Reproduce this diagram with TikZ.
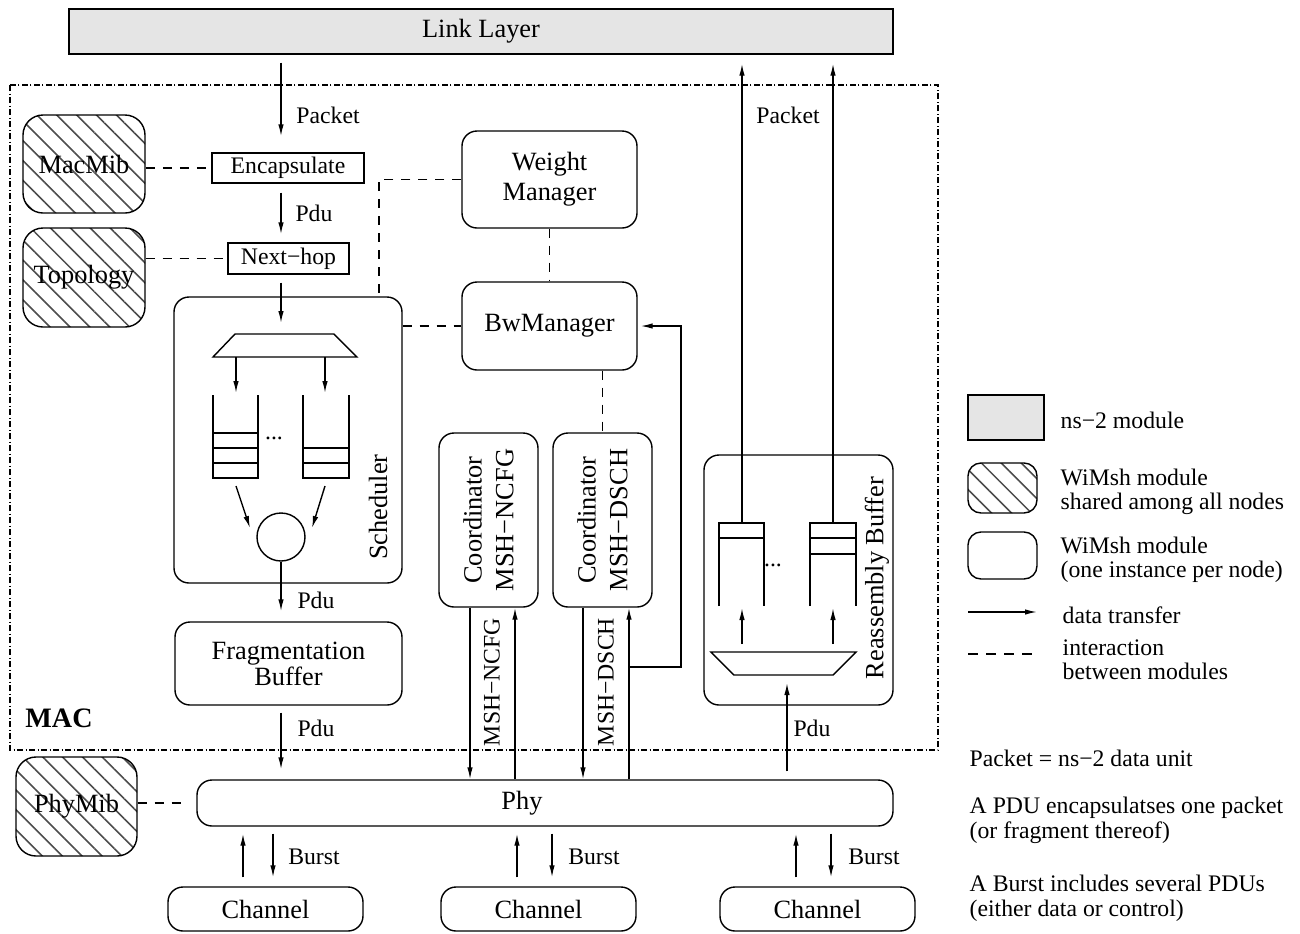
\documentclass[tikz,border=0pt]{standalone}
\usepackage{fontspec}
\setmainfont{Liberation Serif}
\usepackage{xcolor}
\usepackage{tikz}
\usetikzlibrary{arrows.meta,patterns.meta}
\definecolor{NS}{HTML}{e5e5e5}
\tikzset{
  module/.style={draw, rounded corners=3mm, align=center, inner sep=0pt, font=\fontsize{15}{17}\selectfont},
  shared/.style={module, rounded corners=4mm, pattern={Lines[angle=-45,distance=8pt,line width=0.9pt]}, pattern color=black!70},
  nsbox/.style={draw, fill=NS, inner sep=0pt, font=\fontsize{15}{17}\selectfont},
  plainbox/.style={draw, inner sep=0pt, font=\fontsize{13.5}{15}\selectfont},
  caption/.style={inner sep=0pt, font=\fontsize{15}{17}\selectfont},
  tag/.style={inner sep=0pt, font=\fontsize{13.5}{15}\selectfont},
  note/.style={tag, anchor=west, align=left, font=\fontsize{13.5}{13.5}\selectfont},
  flow/.style={-{Latex[length=2.4mm,width=1.1mm]}},
  link/.style={dash pattern=on 1.8mm off 1.6mm},
  layer/.style={dash pattern=on 1.2mm off 0.5mm on 0.2mm off 0.5mm}
}

\begin{document}
\begin{tikzpicture}[x=0.2mm, y=-0.2mm, line width=0.8pt]%
\useasboundingbox (0,0) rectangle (1300,933);%
% MAC frame
\draw[layer] (10,85) rectangle (938,750);%
\node[inner sep=0pt, font=\fontsize{16}{18}\selectfont\bfseries] (mac) at (59,718) {MAC};%
% modules
\node[nsbox, minimum width=164.8mm, minimum height=9mm] (link) at (481,31.5) {Link Layer};%
\node[shared, minimum width=24.4mm, minimum height=19.6mm] (macmib) at (84,164) {MacMib};%
\node[shared, minimum width=24.4mm, minimum height=19.8mm] (topo) at (84,277.5) {Topology};%
\node[plainbox, minimum width=30.4mm, minimum height=6mm] (encap) at (288,168) {Encapsulate};%
\node[plainbox, minimum width=24.2mm, minimum height=6.2mm] (nexthop) at (288.5,258.5) {Next−hop};%
\node[module, minimum width=45.6mm, minimum height=57.2mm] (sched) at (288,440) {};%
\node[caption, rotate=90] (schedlbl) at (378,507) {Scheduler};%
\node[module, minimum width=45.4mm, minimum height=16.6mm, font=\fontsize{15}{12.5}\selectfont] (frag) at (288.5,663.5) {Fragmentation\\Buffer};%
\node[module, minimum width=35mm, minimum height=19.4mm] (weight) at (549.5,179.5) {Weight\\Manager};%
\node[module, minimum width=35mm, minimum height=17.6mm] (bw) at (549.5,326) {BwManager};%
\node[module, rotate=90, minimum width=34.8mm, minimum height=19.8mm, font=\fontsize{15}{18}\selectfont] (ncfg) at (488.5,520) {Coordinator\\MSH−NCFG};%
\node[module, rotate=90, minimum width=34.8mm, minimum height=19.8mm, font=\fontsize{15}{18}\selectfont] (dsch) at (602.5,520) {Coordinator\\MSH−DSCH};%
\node[module, minimum width=37.8mm, minimum height=50mm] (reasm) at (798.5,580) {};%
\node[caption, rotate=90] (reasmlbl) at (877,578) {Reassembly Buffer};%
\node[module, minimum width=139.2mm, minimum height=9.2mm, label={[caption, xshift=-4.6mm]center:Phy}] (phy) at (545,803) {};%
\node[shared, minimum width=24.2mm, minimum height=19.8mm] (phymib) at (76.5,806.5) {PhyMib};%
\node[module, minimum width=39mm, minimum height=8.8mm] (ch1) at (265.5,909) {Channel};%
\node[module, minimum width=39mm, minimum height=8.8mm] (ch2) at (538.5,909) {Channel};%
\node[module, minimum width=39mm, minimum height=8.8mm] (ch3) at (817.5,909) {Channel};%
% scheduler inside
\coordinate (mux) at (281,334);%
\draw (235,334) -- (334,334) -- (357,357) -- (213,357) -- cycle;%
\draw[flow] (236,357) -- (236,393);%
\draw[flow] (325,357) -- (325,393);%
\draw (213,395) -- (213,478) -- (258,478) -- (258,395);%
\draw (213,433) -- (258,433) (213,448) -- (258,448) (213,463) -- (258,463);%
\draw (303,395) -- (303,478) -- (349,478) -- (349,395);%
\draw (303,448) -- (349,448) (303,463) -- (349,463);%
\node[tag] (dotsa) at (274,438) {...};%
\node[draw, circle, minimum size=9.6mm, inner sep=0pt] (srv) at (281,537) {};%
\draw[flow] (236,486) -- (250,528);%
\draw[flow] (325,486) -- (312,528);%
% reassembly inside
\coordinate (demux) at (787,675);%
\coordinate (qa) at (742,523);%
\coordinate (qb) at (833,523);%
\draw (711,652) -- (856,652) -- (833,675) -- (734,675) -- cycle;%
\draw[flow] (742,644) -- (742,608);%
\draw[flow] (833,644) -- (833,608);%
\draw (719,606) -- (719,523) -- (764,523) -- (764,606) (719,538) -- (764,538);%
\draw (810,606) -- (810,523) -- (856,523) -- (856,606) (810,538) -- (856,538) (810,554) -- (856,554);%
\node[tag] (dotsb) at (773,565) {...};%
% data transfer
\coordinate (col) at (281,0);%
\draw[flow, shorten <=1.6mm, shorten >=3.2mm] (link.south -| col) -- (encap.north -| col);%
\node[tag] (pkta) at (328,115) {Packet};%
\draw[flow, shorten <=1.8mm, shorten >=1.6mm] (encap.south -| col) -- (nexthop.north -| col);%
\node[tag] (pdua) at (314,213) {Pdu};%
\draw[flow, shorten <=1.6mm, shorten >=2.2mm] (nexthop.south -| col) -- (mux);%
\draw[flow, shorten >=2mm] (srv.south) -- (frag.north -| srv);%
\node[tag] (pdub) at (316,600) {Pdu};%
\draw[flow, shorten <=1.4mm, shorten >=2mm] (frag.south -| col) -- (phy.north -| col);%
\node[tag] (pduc) at (316,728) {Pdu};%
\draw[flow, shorten >=1.8mm] (qa) -- (link.south -| qa);%
\draw[flow, shorten >=1.8mm] (qb) -- (link.south -| qb);%
\node[tag] (pktb) at (788,115) {Packet};%
\draw[flow, shorten <=1.6mm, shorten >=1.6mm] (phy.north -| demux) -- (demux);%
\node[tag] (pdud) at (812,728) {Pdu};%
% coordinators (rotated: west is the bottom side, east the top side)
\coordinate (ncdn) at (470,0);%
\coordinate (ncup) at (515,0);%
\coordinate (dsdn) at (583,0);%
\coordinate (dsup) at (629,0);%
\coordinate (tap) at (629,667);%
\coordinate (turn) at (681,667);%
\draw[flow] (ncfg.west -| ncdn) -- (phy.north -| ncdn);%
\draw[flow] (phy.north -| ncup) -- (ncfg.west -| ncup);%
\draw[flow] (dsch.west -| dsdn) -- (phy.north -| dsdn);%
\draw[flow] (phy.north -| dsup) -- (dsch.west -| dsup);%
\draw[flow, shorten >=0.6mm] (tap) -- (turn) |- (bw.east);%
\node[tag, rotate=90] (msga) at (492,682) {MSH−NCFG};%
\node[tag, rotate=90] (msgb) at (606,682) {MSH−DSCH};%
% channels
\coordinate (ua) at (243,0);%
\coordinate (da) at (273,0);%
\coordinate (ub) at (517,0);%
\coordinate (db) at (552,0);%
\coordinate (uc) at (796,0);%
\coordinate (dc) at (831,0);%
\draw[flow, shorten <=1.8mm, shorten >=1.4mm] (ch1.north -| ua) -- (phy.south -| ua);%
\draw[flow, shorten <=1.4mm, shorten >=1.8mm] (phy.south -| da) -- (ch1.north -| da);%
\node[tag] (bursta) at (314,857) {Burst};%
\draw[flow, shorten <=1.8mm, shorten >=1.4mm] (ch2.north -| ub) -- (phy.south -| ub);%
\draw[flow, shorten <=1.4mm, shorten >=1.8mm] (phy.south -| db) -- (ch2.north -| db);%
\node[tag] (burstb) at (594,857) {Burst};%
\draw[flow, shorten <=1.8mm, shorten >=1.4mm] (ch3.north -| uc) -- (phy.south -| uc);%
\draw[flow, shorten <=1.4mm, shorten >=1.8mm] (phy.south -| dc) -- (ch3.north -| dc);%
\node[tag] (burstc) at (874,857) {Burst};%
% interactions
\draw[link] (macmib.east |- encap.west) -- (encap.west);%
\draw[link] (topo.east |- nexthop.west) -- (nexthop.west);%
\draw[link] (weight.west) -| ([xshift=18.2mm]sched.north);%
\draw[link] (sched.east |- bw.west) -- (bw.west);%
\draw[link] (weight.south) -- (bw.north);%
\draw[link] (bw.south -| dsch.east) -- (dsch.east);%
\draw[link, shorten >=2mm] (phymib.east |- phy.west) -- (phy.west);%
% legend
\node[nsbox, minimum width=15.2mm, minimum height=9mm] (keyns) at (1006,417.5) {};%
\node[shared, rounded corners=2.6mm, minimum width=13.8mm, minimum height=10mm] (keyshared) at (1002.5,488) {};%
\node[module, rounded corners=2.6mm, minimum width=13.8mm, minimum height=9.4mm] (keyown) at (1002.5,555.5) {};%
\coordinate (keyflowa) at (968,612);%
\coordinate (keyflowb) at (1037,612);%
\coordinate (keylinka) at (968,654);%
\coordinate (keylinkb) at (1037,654);%
\draw[flow] (keyflowa) -- (keyflowb);%
\draw[link, dash pattern=on 2mm off 1.6mm] (keylinka) -- (keylinkb);%
\node[note] (txtns) at (1060,420) {ns−2 module};%
\node[note] (txtshared) at (1060,491.5) {WiMsh module\\shared among all nodes};%
\node[note] (txtown) at (1060,560) {WiMsh module\\(one instance per node)};%
\node[note] (txtflow) at (1062,615) {data transfer};%
\node[note] (txtlink) at (1062,659.5) {interaction\\between modules};%
\node[note] (txtpkt) at (969,758) {Packet = ns−2 data unit};%
\node[note, font=\fontsize{13.5}{14.5}\selectfont] (txtpdu) at (969,820.5) {A PDU encapsulatses one packet\\(or fragment thereof)};%
\node[note, font=\fontsize{13.5}{14.5}\selectfont] (txtburst) at (969,898.5) {A Burst includes several PDUs\\(either data or control)};%
\end{tikzpicture}
\end{document}
